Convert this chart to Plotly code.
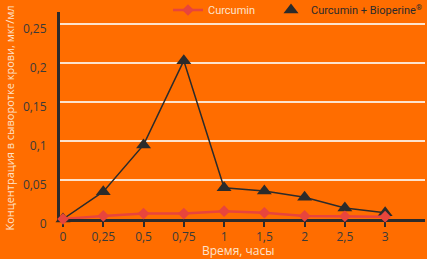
import plotly.graph_objects as go

categories = ["0", "0,25", "0,5", "0,75", "1", "1,5", "2", "2,5", "3"]
curcumin = [0.0, 0.004, 0.007, 0.007, 0.010, 0.008, 0.004, 0.0035, 0.003]
curcumin_bioperine = [0.0, 0.035, 0.095, 0.203, 0.040, 0.036, 0.028, 0.014, 0.008]
y_tickvals = [0, 0.05, 0.1, 0.15, 0.2, 0.25]
y_ticktext = ["0", "0,05", "0,1", "0,15", "0,2", "0,25"]

BG = "#ff6d00"
DARK = "#2b2b2b"
RED = "#e8453c"
CREAM = "#fde3cc"
FONT = "Open Sans"
LEG_FONT = "Roboto"

fig = go.Figure()

# legend-only entries
fig.add_trace(go.Scatter(
    x=[None], y=[None], mode="lines+markers", legend="legend",
    name="Curcumin",
    line=dict(color=RED, width=2.5),
    marker=dict(symbol="diamond", size=9, color=RED),
))
fig.add_trace(go.Scatter(
    x=[None], y=[None], mode="markers", legend="legend2",
    name="Curcumin + Bioperine<sup>®</sup>",
    marker=dict(symbol="triangle-up", size=13, color=DARK),
))

fig.add_trace(go.Scatter(
    x=categories, y=curcumin_bioperine, mode="lines+markers", showlegend=False,
    line=dict(color=DARK, width=1.5),
    marker=dict(symbol="triangle-up", size=13, color=DARK),
    cliponaxis=False,
))
fig.add_trace(go.Scatter(
    x=categories, y=curcumin, mode="lines+markers", showlegend=False,
    line=dict(color=RED, width=2.5),
    marker=dict(symbol="diamond", size=9, color=RED),
    cliponaxis=False,
))

fig.update_layout(
    width=427, height=259,
    margin=dict(l=60, r=2, t=12, b=40, autoexpand=False),
    paper_bgcolor=BG, plot_bgcolor=BG,
    font=dict(family=FONT, size=12, color=DARK),
    legend=dict(
        orientation="h", xref="container", yref="container",
        x=168 / 427, y=1 - 10 / 259, xanchor="left", yanchor="middle",
        font=dict(family=LEG_FONT, size=11, color=CREAM), bgcolor="rgba(0,0,0,0)",
    ),
    legend2=dict(
        orientation="h", xref="container", yref="container",
        x=1.0, y=1 - 10 / 259, xanchor="right", yanchor="middle",
        font=dict(family=LEG_FONT, size=11, color=DARK),
        bgcolor="rgba(0,0,0,0)",
    ),
    xaxis=dict(
        type="category", range=[-0.075, 8.99],
        showgrid=False, showline=True, linecolor=DARK, linewidth=3,
        ticks="outside", ticklen=5, tickwidth=2, tickcolor=DARK,
        tickfont=dict(size=12, color="#3a3a3a"),
        zeroline=False, layer="below traces", automargin=False,
    ),
    yaxis=dict(
        range=[0, 0.2654], tickvals=y_tickvals, ticktext=y_ticktext,
        showgrid=True, gridcolor=CREAM, gridwidth=2,
        showline=True, linecolor=DARK, linewidth=3,
        zeroline=False, ticks="", ticklabelshift=5, ticklabelstandoff=8,
        tickfont=dict(size=12, color="#3a3a3a"),
        layer="below traces", automargin=False,
    ),
    annotations=[
        dict(text="Время, часы", xref="paper", yref="paper", x=0.487, y=0,
             yshift=-31, showarrow=False, yanchor="middle",
             font=dict(size=12, color=CREAM)),
        dict(text="Концентрация в сыворотке крови, мкг/мл", xref="paper", yref="paper",
             x=0, y=0.5, xshift=-51, yshift=-3, textangle=-90, showarrow=False,
             xanchor="center", font=dict(size=11, color=CREAM)),
    ],
)

fig.write_html("out.html", config={"displayModeBar": False},
               post_script="document.body.style.margin='0';")
